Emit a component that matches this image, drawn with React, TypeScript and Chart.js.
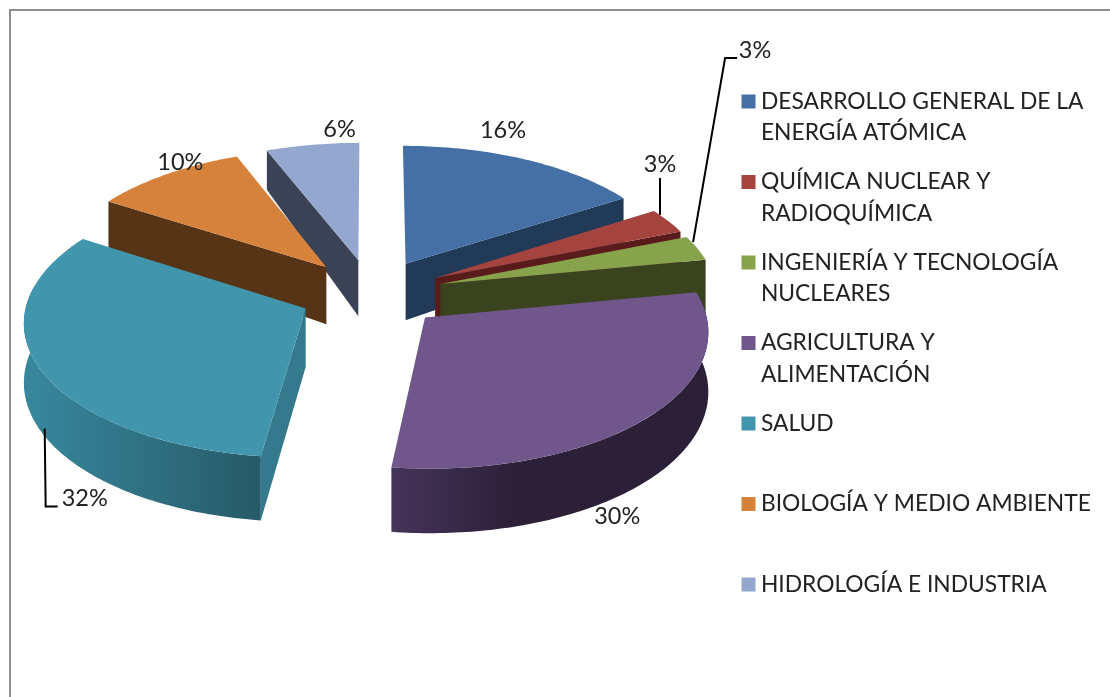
import React, { useEffect, useRef } from "react";
import { Chart, registerables } from "chart.js";

Chart.register(...registerables);

// ---- data -----------------------------------------------------------------
const categories: string[][] = [
  ["DESARROLLO GENERAL DE LA", "ENERGÍA ATÓMICA"],
  ["QUÍMICA NUCLEAR Y", "RADIOQUÍMICA"],
  ["INGENIERÍA Y TECNOLOGÍA", "NUCLEARES"],
  ["AGRICULTURA Y", "ALIMENTACIÓN"],
  ["SALUD", ""],
  ["BIOLOGÍA Y MEDIO AMBIENTE", ""],
  ["HIDROLOGÍA E INDUSTRIA", ""],
];
const shares = [16, 3, 3, 30, 32, 10, 6];

// ---- styles ---------------------------------------------------------------
const topColors = ["#4470a6", "#a5433f", "#87a34b", "#70568b", "#4196ae", "#d7823b", "#93a7cf"];
const cutColors = ["#213a58", "#5a1c1a", "#39431e", "#3f3050", "#35798c", "#583417", "#3a4255"];
const rimFrom = ["#213a58", "#5a1c1a", "#39431e", "#45345a", "#37869b", "#583417", "#3a4255"];
const rimTo = ["#213a58", "#5a1c1a", "#39431e", "#2b2038", "#265a68", "#583417", "#3a4255"];

// offset of each percentage from the rim point at the slice's middle angle
const labelNudge = [
  [-22, -29],
  [-8, -57],
  [58, -198],
  [-30, 99],
  [45, 130],
  [14, -12],
  [27, -15],
];
// leader lines, relative to the percentage's centre
const leaders: number[][][] = [
  [],
  [[0, 14], [0, 51]],
  [[-62, 192], [-30, 8], [-18, 8]],
  [],
  [[-40, -70], [-39, 8], [-27, 8]],
  [],
  [],
];

const FONT = "Lato";
const FONT_SIZE = 22.8;
const VALUE_FONT_SIZE = 23.5;
const EXPLODE = 0.26;
const SCALE_X = 0.945;
const SCALE_Y = 0.454;
const PERSPECTIVE = 0.088;
const RAD = Math.PI / 180;

function depthAt(v: number) {
  return v < -0.2 ? 57 + (v + 0.2) * 18 : 57 + (v + 0.2) * 5.5;
}

const pie3d = {
  id: "pie3d",
  afterLayout(chart: any) {
    const l = chart.legend;
    l.left = 730;
    l.right = 1110;
    l.top = 72.5;
    l.bottom = 697;
  },
  beforeDraw(chart: any) {
    const c = chart.ctx;
    c.save();
    c.fillStyle = "#fff";
    c.fillRect(0, 0, chart.width, chart.height);
    c.strokeStyle = "#8e8e8e";
    c.lineWidth = 2;
    c.strokeRect(10, 10, 1300, 1000);
    c.restore();
  },
  beforeDatasetsDraw(chart: any) {
    const c = chart.ctx;
    const meta = chart.getDatasetMeta(0);
    const arcs = meta.data.map((arc: any, index: number) => ({ arc, index }));
    const midOf = (a: any) => (a.startAngle + a.endAngle) / 2;
    arcs.sort((p: any, q: any) => Math.sin(midOf(p.arc)) - Math.sin(midOf(q.arc)));

    const makeProj = (arc: any) => {
      const mid = midOf(arc);
      const ox = Math.cos(mid) * EXPLODE;
      const oy = Math.sin(mid) * EXPLODE;
      const Rx = arc.outerRadius * SCALE_X;
      const Ry = arc.outerRadius * SCALE_Y;
      return (angle: number | null, down: boolean) => {
        const u = ox + (angle === null ? 0 : Math.cos(angle));
        const v = oy + (angle === null ? 0 : Math.sin(angle));
        const s = 1 / (1 - PERSPECTIVE * v);
        return {
          x: arc.x + Rx * u * s,
          y: arc.y + Ry * v * s + (down ? depthAt(v) : 0),
        };
      };
    };
    const poly = (pts: any[], fill: any) => {
      c.beginPath();
      pts.forEach((p, i) => (i ? c.lineTo(p.x, p.y) : c.moveTo(p.x, p.y)));
      c.closePath();
      c.fillStyle = fill;
      c.fill();
    };

    c.save();
    for (const { arc, index } of arcs) {
      const P = makeProj(arc);
      const a0 = arc.startAngle;
      const a1 = arc.endAngle;
      // cut faces turned towards the viewer
      if (Math.sin(a0 + Math.PI / 2) < 0) {
        poly([P(null, false), P(a0, false), P(a0, true), P(null, true)], cutColors[index]);
      }
      if (Math.sin(a1 + Math.PI / 2) > 0) {
        poly([P(null, false), P(a1, false), P(a1, true), P(null, true)], cutColors[index]);
      }
      // outer wall
      const from = Math.max(a0, -10 * RAD);
      const to = Math.min(a1, 190 * RAD);
      if (to > from) {
        const top: any[] = [];
        const bottom: any[] = [];
        const steps = Math.max(2, Math.ceil((to - from) / RAD));
        for (let i = 0; i <= steps; i++) {
          const a = from + ((to - from) * i) / steps;
          top.push(P(a, false));
          bottom.unshift(P(a, true));
        }
        const g = c.createLinearGradient(top[0].x, 0, top[top.length - 1].x, 0);
        g.addColorStop(0, rimTo[index]);
        if (index === 3) g.addColorStop(0.6, rimTo[index]);
        g.addColorStop(1, rimFrom[index]);
        poly(top.concat(bottom), g);
      }
      // top face
      const face: any[] = [P(null, false)];
      const n = Math.max(2, Math.ceil((a1 - a0) / RAD));
      for (let i = 0; i <= n; i++) face.push(P(a0 + ((a1 - a0) * i) / n, false));
      poly(face, chart.data.datasets[0].backgroundColor[index]);
    }

    // percentages and leader lines
    c.font = `${VALUE_FONT_SIZE}px ${FONT}`;
    c.textAlign = "center";
    c.textBaseline = "middle";
    meta.data.forEach((arc: any, i: number) => {
      const P = makeProj(arc);
      const rim = P(midOf(arc), false);
      const lx = rim.x + labelNudge[i][0];
      const ly = rim.y + labelNudge[i][1];
      if (leaders[i].length) {
        c.beginPath();
        leaders[i].forEach((p, k) =>
          k ? c.lineTo(lx + p[0], ly + p[1]) : c.moveTo(lx + p[0], ly + p[1])
        );
        c.lineWidth = 2;
        c.strokeStyle = "#000";
        c.stroke();
      }
      c.fillStyle = "#222";
      c.fillText(`${shares[i]}%`, lx, ly);
    });
    c.restore();
    return false;
  },
};

export default function App() {
  const ref = useRef<HTMLCanvasElement>(null);
  useEffect(() => {
    const chart = new Chart(ref.current as HTMLCanvasElement, {
      type: "pie",
      data: {
        labels: categories as any,
        datasets: [
          { data: shares, backgroundColor: topColors, borderWidth: 0, hoverOffset: 0 } as any,
        ],
      },
      options: {
        responsive: false,
        animation: false,
        events: [],
        layout: { padding: { left: 18, top: 0, right: 14, bottom: 110 } },
        plugins: {
          tooltip: { enabled: false },
          legend: {
            position: "right",
            align: "start",
            labels: {
              font: { family: FONT, size: FONT_SIZE, lineHeight: 31.5 / FONT_SIZE },
              color: "#222",
              padding: 17.5,
              boxWidth: 2,
              boxHeight: 14,
              usePointStyle: true,
              pointStyle: "rect",
            },
          },
        },
      } as any,
      plugins: [pie3d as any],
    });
    return () => chart.destroy();
  }, []);
  return (
    <canvas
      ref={ref}
      width={1110}
      height={697}
      style={{ position: "absolute", left: 0, top: 0, display: "block" }}
    />
  );
}
